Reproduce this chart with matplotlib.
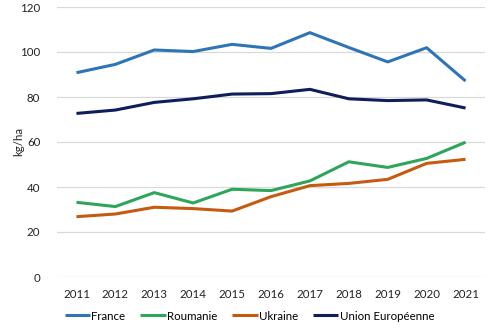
import matplotlib
matplotlib.use("Agg")
import matplotlib.pyplot as plt

plt.rcParams['font.family'] = ['Lato', 'DejaVu Sans']

years = ["2011", "2012", "2013", "2014", "2015", "2016", "2017", "2018", "2019", "2020", "2021"]
france = [90.8, 94.5, 100.9, 100.2, 103.4, 101.6, 108.6, 102.0, 95.6, 101.9, 87.1]
roumanie = [33.2, 31.3, 37.5, 32.9, 39.0, 38.4, 42.7, 51.2, 48.7, 52.7, 59.9]
ukraine = [26.8, 28.0, 31.0, 30.4, 29.3, 35.7, 40.6, 41.6, 43.4, 50.5, 52.3]
ue = [72.7, 74.2, 77.6, 79.2, 81.3, 81.5, 83.4, 79.2, 78.4, 78.7, 75.1]

series = [
    ("France", france, "#2E75B6"),
    ("Roumanie", roumanie, "#2EA65A"),
    ("Ukraine", ukraine, "#C55A11"),
    ("Union Européenne", ue, "#0E1E5B"),
]

W, H = 499, 328
fig = plt.figure(figsize=(W / 100, H / 100), dpi=100)
ax = fig.add_axes([57 / W, 1 - 277 / H, (485 - 57) / W, (277 - 7) / H])

x = list(range(len(years)))
for name, vals, col in series:
    ax.plot(x, vals, color=col, lw=2.2, label=name, solid_capstyle='butt')

ax.set_xlim(-0.5, len(years) - 0.5)
ax.set_ylim(0, 120)
ax.set_yticks(range(0, 121, 20))
ax.set_xticks(x)
ax.set_xticklabels(years)
ax.grid(axis='y', color='#D9D9D9', lw=0.9)
ax.set_axisbelow(True)
for s in ax.spines.values():
    s.set_visible(False)
ax.tick_params(length=0, labelsize=8.3, colors='#222222')
ax.tick_params(axis='x', pad=9)
ax.tick_params(axis='y', pad=12)
ax.set_ylabel("kg/ha", fontsize=8.3, color='#222222')
ax.yaxis.set_label_coords(-0.077, 0.5)

fig.legend(loc='center', bbox_to_anchor=(0.5, 1 - 316 / H), ncol=4, frameon=False,
           fontsize=8.3, handlelength=2.2, handletextpad=0.1, columnspacing=1.3)

fig.savefig("out.png", dpi=100)
